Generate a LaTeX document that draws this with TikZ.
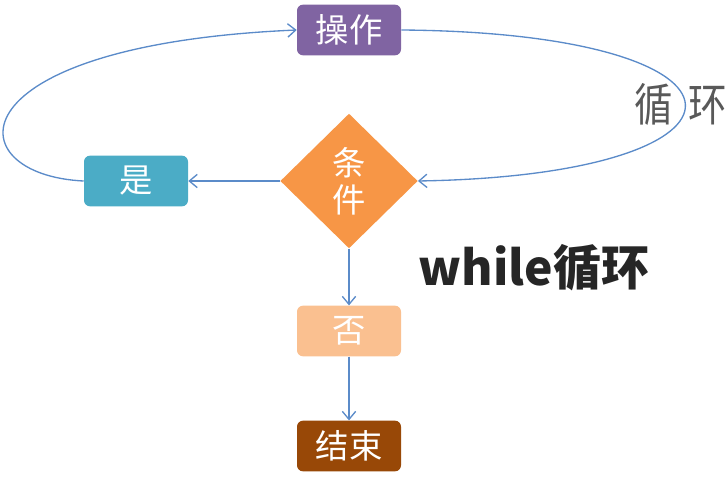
\documentclass[tikz,border=0pt]{standalone}
\usepackage{fontspec}
\setmainfont{Noto Sans CJK SC}
\usetikzlibrary{shapes.geometric,arrows.meta}
\definecolor{cPurple}{HTML}{8064A2}
\definecolor{cTeal}{HTML}{4BACC6}
\definecolor{cOrange}{HTML}{F79646}
\definecolor{cPeach}{HTML}{FAC090}
\definecolor{cBrown}{HTML}{984807}
\definecolor{cLine}{HTML}{5B8BC9}
\definecolor{cGray}{HTML}{595959}
\tikzset{
  box/.style={rounded corners=4.5pt, minimum width=78pt, minimum height=38pt, inner sep=0pt,
    text=white, font=\fontsize{25}{28}\selectfont},
  cond/.style={diamond, minimum width=103pt, minimum height=101pt, inner sep=0pt,
    fill=cOrange, text=white, align=center, font=\fontsize{25}{28}\selectfont},
  conn/.style={draw=cLine, line width=1pt, -{Straight Barb[length=6pt,width=10pt]}},
}
\begin{document}
\begin{tikzpicture}[x=0.75pt,y=-0.75pt]
\useasboundingbox (0,0) rectangle (727,477);
\node[box, fill=cPurple] (op) at (349,30) {操作};
\node[box, fill=cTeal] (yes) at (136,181) {是};
\node[cond] (c) at (349,181) {条\\件};
\node[box, fill=cPeach] (no) at (349,331) {否};
\node[box, fill=cBrown] (end) at (349,446) {结束};
\node[text=cGray, font=\fontsize{34}{38}\selectfont, xscale=0.85, inner sep=0pt] (lbl) at (681,104) {循\hspace{14pt}环};
\node[font=\fontsize{36}{40}\selectfont\bfseries, text=black!85, inner sep=0pt] (title) at (534,268) {while循环};
\draw[conn] (op.east) .. controls (777,33) and (777,175) .. (c.east);
\draw[conn] (yes.west) .. controls (-45,175) and (-50,45) .. (op.west);
\draw[conn] (c.west) -- (yes.east);
\draw[conn] (c.south) -- (no.north);
\draw[conn] (no.south) -- (end.north);
\end{tikzpicture}
\end{document}
